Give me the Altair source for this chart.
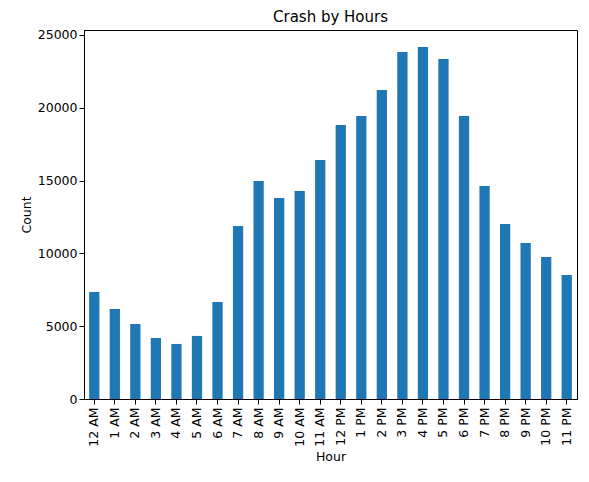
import altair as alt
import pandas as pd

hours = ["12 AM", "1 AM", "2 AM", "3 AM", "4 AM", "5 AM", "6 AM", "7 AM", "8 AM", "9 AM",
         "10 AM", "11 AM", "12 PM", "1 PM", "2 PM", "3 PM", "4 PM", "5 PM", "6 PM", "7 PM",
         "8 PM", "9 PM", "10 PM", "11 PM"]
counts = [7350, 6180, 5150, 4190, 3780, 4330, 6660, 11880, 14970, 13800,
          14290, 16410, 18820, 19440, 21220, 23830, 24180, 23350, 19440, 14630,
          12020, 10710, 9750, 8520]

df = pd.DataFrame({"Hour": hours, "Count": counts})

chart = alt.Chart(df).mark_bar(color="#1f77b4").encode(
    x=alt.X("Hour:N", sort=hours,
            scale=alt.Scale(paddingInner=0.5, paddingOuter=0.25),
            axis=alt.Axis(labelAngle=270, title="Hour", grid=False, tickColor="black",
                          domainColor="black", labelColor="black", labelPadding=3)),
    y=alt.Y("Count:Q", scale=alt.Scale(domain=[0, 25340], nice=False),
            axis=alt.Axis(values=[0, 5000, 10000, 15000, 20000, 25000], grid=False,
                          tickColor="black", domainColor="black", labelColor="black",
                          format="d", title="Count")),
).properties(
    width=493, height=369,
    title=alt.TitleParams("Crash by Hours", fontSize=15, fontWeight="normal", color="black"),
    autosize=alt.AutoSizeParams(type="none"),
    padding={"left": 76, "top": 22, "right": 4, "bottom": 80},
).configure(font="DejaVu Sans").configure_axis(
    labelFontSize=12.5, titleFontSize=12.5, titleFontWeight="normal", titleColor="black"
).configure_view(stroke="black")

chart.save("out.html", embed_options={"renderer": "svg", "actions": False})
